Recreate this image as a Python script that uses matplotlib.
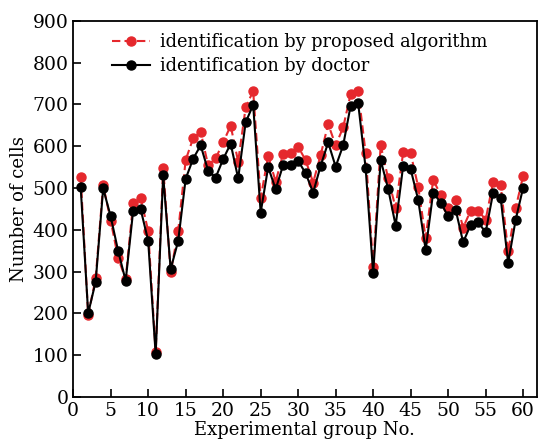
import matplotlib
matplotlib.use("Agg")
import matplotlib.pyplot as plt

groups = list(range(1, 61))
proposed = [526, 196, 284, 507, 422, 332, 282, 464, 476, 397,
            107, 549, 298, 396, 567, 619, 634, 554, 571, 609,
            649, 563, 693, 732, 476, 577, 515, 582, 583, 599,
            566, 513, 579, 653, 602, 645, 725, 732, 583, 312,
            602, 523, 452, 585, 583, 503, 380, 519, 484, 452,
            472, 405, 446, 446, 424, 515, 507, 348, 452, 529]
doctor = [503, 200, 276, 499, 432, 349, 278, 446, 449, 374,
          102, 530, 306, 373, 522, 570, 602, 541, 525, 569,
          606, 523, 657, 699, 441, 550, 497, 555, 555, 565,
          535, 489, 553, 609, 551, 602, 697, 703, 547, 296,
          567, 498, 410, 553, 545, 472, 352, 489, 465, 432,
          448, 370, 412, 418, 394, 489, 476, 321, 424, 501]
xticks = [0, 5, 10, 15, 20, 25, 30, 35, 40, 45, 50, 55, 60]
yticks = [0, 100, 200, 300, 400, 500, 600, 700, 800, 900]

plt.rcParams['font.family'] = ['DejaVu Serif']
fig = plt.figure(figsize=(5.38, 4.43), dpi=100)
ax = fig.add_axes([0.136, 0.104, 0.8615, 0.849])

ax.plot(groups, proposed, color='#e5282d', linestyle=(0, (4, 2)), linewidth=1.5,
        marker='o', markersize=6.5, label='identification by proposed algorithm')
ax.plot(groups, doctor, color='black', linestyle='-', linewidth=1.5,
        marker='o', markersize=6.5, label='identification by doctor')

ax.set_xlim(0, 61.8)
ax.set_ylim(0, 900)
ax.set_xticks(xticks)
ax.set_yticks(yticks)
ax.tick_params(direction='in', labelsize=13.5, width=1.2, length=6)
for s in ax.spines.values():
    s.set_linewidth(1.3)
ax.set_xlabel('Experimental group No.', fontsize=13, labelpad=1)
ax.set_ylabel('Number of cells', fontsize=13, labelpad=3)
ax.legend(loc='upper left', frameon=False, fontsize=12.8, handlelength=2.1,
          handletextpad=0.55, bbox_to_anchor=(0.058, 1.0), borderaxespad=0.3,
          labelspacing=0.35)

fig.savefig('out.png', dpi=100)
